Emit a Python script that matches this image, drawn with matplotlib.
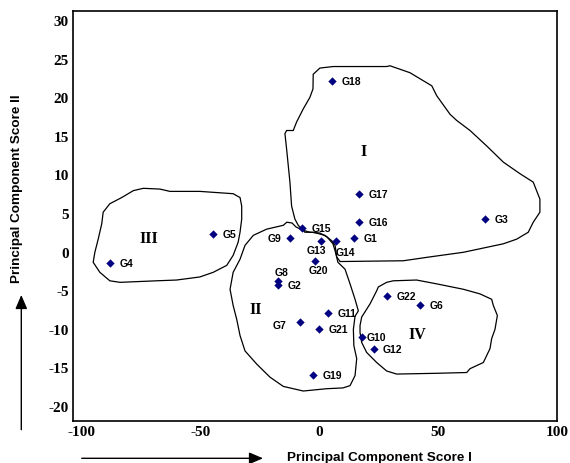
import matplotlib
matplotlib.use("Agg")
import matplotlib.pyplot as plt
from matplotlib.patches import Polygon, FancyArrowPatch

# ---- data ----
genotypes = ["G1", "G2", "G3", "G4", "G5", "G6", "G7", "G8", "G9", "G10", "G11",
             "G12", "G13", "G14", "G15", "G16", "G17", "G18", "G19", "G20", "G21", "G22"]
pc1 = [14.8, -17.3, 69.8, -88.0, -44.8, 42.3, -8.0, -17.3, -12.3, 18.1, 3.7,
       22.9, 0.6, 7.1, -7.1, 16.8, 16.8, 5.3, -2.5, -1.9, -0.2, 28.4]
pc2 = [1.8, -4.4, 4.2, -1.5, 2.3, -6.9, -9.1, -3.8, 1.8, -11.1, -8.0,
       -12.6, 1.3, 1.3, 3.1, 3.8, 7.5, 22.1, -16.0, -1.2, -10.1, -5.8]

x_ticks = [-100, -50, 0, 50, 100]
y_ticks = [-20, -15, -10, -5, 0, 5, 10, 15, 20, 25, 30]

cluster_names = ["I", "II", "III", "IV"]
cluster_label_x = [18.6, -26.6, -71.6, 41.2]
cluster_label_y = [13.1, -7.5, 1.8, -10.7]

cluster_I = [(-13.7, 15.7), (-10.9, 15.7), (-9.5, 16.8), (-6.7, 18.5), (-3.9, 20.0),
             (-2.6, 21.1), (-2.5, 23.0), (0.3, 23.8), (5.9, 24.0), (28.4, 24.0),
             (29.8, 24.1), (38.2, 23.2), (47.4, 21.5), (49.5, 20.2), (55.1, 17.8),
             (57.9, 17.0), (63.5, 15.7), (70.5, 13.7), (77.5, 11.6), (84.5, 10.1),
             (90.1, 9.0), (92.9, 6.8), (92.9, 5.1), (90.1, 3.8), (88.0, 2.5),
             (83.1, 1.6), (77.5, 1.0), (60.7, -0.1), (46.6, -0.7), (35.4, -1.2),
             (8.8, -1.3), (7.4, -0.7), (6.7, 0.8), (5.3, 1.4), (2.4, 2.1),
             (-2.5, 2.5), (-6.0, 2.5), (-7.2, 2.9), (-8.8, 3.4), (-10.2, 4.2),
             (-11.6, 5.9), (-12.3, 9.0), (-13.7, 13.3), (-14.4, 15.3)]
cluster_II = [(-37.5, -4.9), (-36.2, -2.7), (-33.3, -1.0), (-31.2, 0.8), (-27.7, 2.1),
              (-22.1, 2.9), (-15.1, 3.4), (-13.6, 3.8), (-11.4, 3.7), (-9.8, 3.2),
              (-7.2, 2.8), (-3.9, 2.5), (0.3, 2.4), (3.3, 1.9), (5.8, 1.0),
              (6.7, 0.1), (7.9, -1.4), (10.9, -2.3), (13.0, -4.2), (15.1, -6.2),
              (16.5, -7.7), (15.1, -8.4), (14.4, -10.1), (14.6, -12.2), (15.8, -13.9),
              (15.1, -16.1), (13.0, -17.4), (10.0, -17.7), (3.2, -17.8), (-6.7, -18.1),
              (-15.1, -17.5), (-20.7, -16.3), (-26.3, -14.6), (-31.2, -12.9),
              (-33.3, -10.9), (-34.7, -8.8), (-36.2, -7.0)]
cluster_III = [(-90.9, 5.1), (-88.1, 6.2), (-83.1, 7.0), (-78.2, 7.9), (-74.0, 8.2),
               (-67.0, 8.1), (-62.8, 7.8), (-50.2, 7.8), (-36.2, 7.5), (-33.3, 7.0),
               (-32.6, 5.9), (-32.6, 4.2), (-33.3, 2.5), (-34.1, 1.2), (-36.2, -0.5),
               (-38.9, -1.8), (-44.6, -2.7), (-50.2, -3.3), (-60.0, -3.7), (-68.4, -3.8),
               (-83.8, -4.0), (-88.1, -3.8), (-92.3, -2.7), (-95.1, -1.4), (-94.4, -0.1),
               (-93.0, 1.6), (-91.5, 3.6)]
cluster_IV = [(17.2, -9.6), (17.9, -8.5), (21.4, -6.8), (24.2, -5.1), (24.9, -4.6),
              (28.4, -4.0), (31.2, -3.8), (41.0, -3.7), (49.5, -4.2), (60.7, -4.9),
              (67.7, -5.5), (72.6, -6.2), (73.3, -7.0), (75.0, -8.3), (74.0, -10.1),
              (72.6, -11.3), (71.9, -12.6), (69.1, -14.4), (63.5, -15.2), (62.1, -15.7),
              (49.5, -15.8), (32.6, -15.9), (28.4, -15.5), (24.2, -14.4), (20.0, -13.1),
              (17.9, -11.8), (17.2, -10.5)]

# ---- label placement (style) ----
label_style = {
    "G9": dict(dx=-9, dy=0, ha="right"),
    "G7": dict(dx=-13.5, dy=-3, ha="right"),
    "G8": dict(dx=4, dy=9, ha="center"),
    "G13": dict(dx=-4, dy=-8.5, ha="center"),
    "G14": dict(dx=0, dy=-11, ha="left"),
    "G20": dict(dx=4, dy=-9.5, ha="center"),
    "G10": dict(dx=4, dy=0, ha="left"),
}

fig = plt.figure(figsize=(5.70, 4.64), dpi=100)
ax = fig.add_axes([73 / 570, 1 - 422 / 464, (557 - 73) / 570, (422 - 11.5) / 464])

for poly in [cluster_I, cluster_II, cluster_III, cluster_IV]:
    ax.add_patch(Polygon(poly, closed=True, fill=False, edgecolor="black", linewidth=0.9))

ax.scatter(pc1, pc2, marker="D", s=18, color="#000080", zorder=3, linewidths=0)

px2pt = 0.72
for name, x, y in zip(genotypes, pc1, pc2):
    st = label_style.get(name, dict(dx=9.5, dy=0, ha="left"))
    ax.annotate(name, (x, y), xytext=(st["dx"] * px2pt, st["dy"] * px2pt),
                textcoords="offset points", ha=st["ha"], va="center",
                fontsize=7.5, fontweight="bold", family="Liberation Sans", zorder=4)

for name, x, y in zip(cluster_names, cluster_label_x, cluster_label_y):
    ax.text(x, y, name, ha="center", va="center", fontsize=11.5, fontweight="bold",
            family="Liberation Serif")

ax.set_xlim(-103.6, 100.1)
ax.set_ylim(-21.99, 31.27)
ax.set_xticks(x_ticks)
ax.set_yticks(y_ticks)
ax.set_xticklabels([str(v) for v in x_ticks])
ax.set_yticklabels([str(v) for v in y_ticks])
ax.tick_params(length=0, pad=3)
for lab in ax.get_xticklabels() + ax.get_yticklabels():
    lab.set_family("Liberation Serif")
    lab.set_fontweight("bold")
    lab.set_fontsize(11)
for sp in ax.spines.values():
    sp.set_linewidth(1.2)
    sp.set_color("black")

fig.text(379 / 570, 1 - 457.7 / 464, "Principal Component Score I", ha="center", va="center",
         fontsize=9.7, fontweight="bold", family="Liberation Sans")
fig.text(17.3 / 570, 1 - 188.5 / 464, "Principal Component Score II", ha="center", va="center",
         rotation=90, fontsize=9.7, fontweight="bold", family="Liberation Sans")

arrow_kw = dict(arrowstyle="-|>,head_length=0.7,head_width=0.3", color="black", lw=1.0,
                shrinkA=0, shrinkB=0, mutation_scale=12)
fig.patches.append(FancyArrowPatch(
    (81.7 / 570, 1 - 459.3 / 464), (263 / 570, 1 - 459.3 / 464),
    transform=fig.transFigure, **arrow_kw))
fig.patches.append(FancyArrowPatch(
    (21.3 / 570, 1 - 430.7 / 464), (21.3 / 570, 1 - 296 / 464),
    transform=fig.transFigure, **arrow_kw))

fig.savefig("out.png", dpi=100)
